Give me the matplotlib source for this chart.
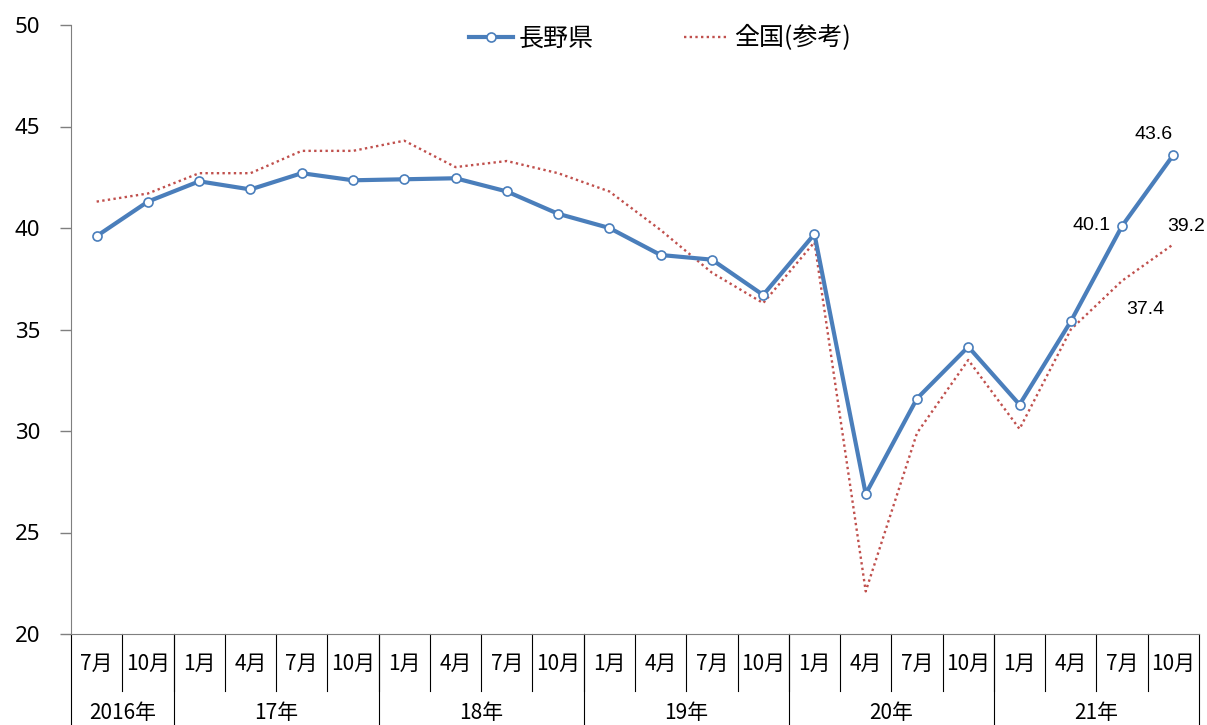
import matplotlib
matplotlib.use('Agg')
import matplotlib.pyplot as plt

plt.rcParams['font.family'] = ['Noto Sans CJK JP', 'DejaVu Sans']

# データ（四半期ごと）
months = ['7月', '10月', '1月', '4月', '7月', '10月', '1月', '4月', '7月', '10月', '1月',
          '4月', '7月', '10月', '1月', '4月', '7月', '10月', '1月', '4月', '7月', '10月']
years = ['2016年', '17年', '18年', '19年', '20年', '21年']
year_span = [2, 4, 4, 4, 4, 4]

nagano = [39.6, 41.3, 42.3, 41.9, 42.7, 42.35, 42.4, 42.45, 41.8, 40.7, 40.0,
          38.67, 38.44, 36.7, 39.7, 26.9, 31.6, 34.15, 31.3, 35.4, 40.1, 43.6]
zenkoku = [41.3, 41.7, 42.7, 42.7, 43.8, 43.8, 44.3, 43.0, 43.3, 42.7, 41.8,
           39.9, 37.8, 36.3, 39.3, 22.1, 29.9, 33.5, 30.1, 35.0, 37.4, 39.2]

x = list(range(len(months)))

fig = plt.figure(figsize=(12.07, 7.25), dpi=100)
ax = fig.add_axes([71 / 1207, 91 / 725, 1128 / 1207, 609 / 725])

ax.plot(x, zenkoku, color='#C0504D', lw=1.7, linestyle=(0, (1, 1.4)), label='全国(参考)', zorder=2)
ax.plot(x, nagano, color='#4A7EBB', lw=3, marker='o', markersize=6.5,
        markerfacecolor='white', markeredgecolor='#4A7EBB', markeredgewidth=1.2,
        label='長野県', zorder=3)

# 軸
ax.set_xlim(-0.5, len(months) - 0.5)
ax.set_ylim(20, 50)
ax.set_yticks([20, 25, 30, 35, 40, 45, 50])
ax.tick_params(axis='y', length=8, width=1, color='#7f7f7f', pad=14, labelsize=16)
ax.set_xticks([])
for s in ['top', 'right']:
    ax.spines[s].set_visible(False)
ax.spines['left'].set_color('#7f7f7f')
ax.spines['bottom'].set_color('#7f7f7f')
for lab in ax.get_yticklabels():
    lab.set_family(['Noto Sans', 'DejaVu Sans'])

# データラベル
lab_font = dict(fontsize=14, family=['Liberation Sans', 'DejaVu Sans'])
ax.annotate(f'{nagano[-1]}', (x[-1], nagano[-1]), xytext=(-14, 15), textcoords='offset points',
            ha='center', va='center', **lab_font)
ax.annotate(f'{nagano[-2]}', (x[-2], nagano[-2]), xytext=(-22, 0), textcoords='offset points',
            ha='center', va='center', **lab_font)
ax.annotate(f'{zenkoku[-1]}', (x[-1], zenkoku[-1]), xytext=(9, 13), textcoords='offset points',
            ha='center', va='center', **lab_font)
ax.annotate(f'{zenkoku[-2]}', (x[-2], zenkoku[-2]), xytext=(17, -21), textcoords='offset points',
            ha='center', va='center', **lab_font)

# 凡例
handles, labels = ax.get_legend_handles_labels()
ax.legend(handles[::-1], labels[::-1], loc='center', bbox_to_anchor=(0.522, 0.978), ncol=2,
          frameon=False, fontsize=18, columnspacing=3.6, handlelength=1.75, handletextpad=0.25)

# 下の表（月・年）
tr = ax.get_xaxis_transform()
px = 1 / 609
for i, m in enumerate(months):
    ax.text(i, -30 * px, m, transform=tr, ha='center', va='center', fontsize=15)
for i in range(1, len(months)):
    ax.plot([i - 0.5, i - 0.5], [0, -57 * px], transform=tr, color='black', lw=0.8, clip_on=False)
start = 0
bounds = [-0.5]
for y, n in zip(years, year_span):
    ax.text(start + n / 2 - 0.5, -79 * px, y, transform=tr, ha='center', va='center', fontsize=15)
    start += n
    bounds.append(start - 0.5)
for b in bounds:
    ax.plot([b, b], [0, -92 * px], transform=tr, color='black', lw=0.8, clip_on=False)

fig.savefig('out.png', dpi=100)
